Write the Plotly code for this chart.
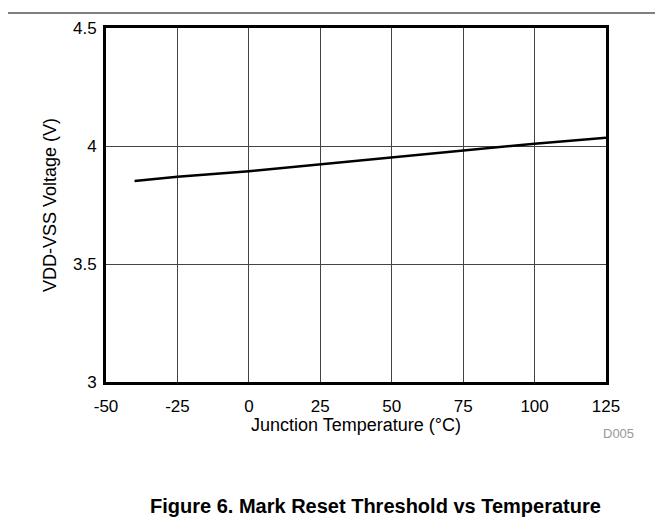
import plotly.graph_objects as go

temps = [-40, -25, 0, 25, 50, 75, 100, 125]
volts = [3.852, 3.870, 3.893, 3.922, 3.952, 3.982, 4.010, 4.035]

x_ticks = [-50, -25, 0, 25, 50, 75, 100, 125]
x_labels = ["-50", "-25", "0", "25", "50", "75", "100", "125"]
y_ticks = [3, 3.5, 4, 4.5]
y_labels = ["3", "3.5", "4", "4.5"]

FONT = "Liberation Sans, Arial, sans-serif"

fig = go.Figure()
fig.add_trace(go.Scatter(x=temps, y=volts, mode="lines",
                         line=dict(color="black", width=2.5), showlegend=False))

axis_style = dict(showline=True, mirror=True, linewidth=3, linecolor="black",
                  showgrid=True, gridcolor="#444444", gridwidth=1,
                  zeroline=False, ticks="outside", tickcolor="white",
                  tickfont=dict(family=FONT, size=17, color="black"))

fig.update_xaxes(range=[-50, 125], tickvals=x_ticks, ticktext=x_labels,
                 ticklen=7, **axis_style)
fig.update_yaxes(range=[3, 4.5], tickvals=y_ticks, ticktext=y_labels,
                 ticklen=3, **axis_style)

fig.update_layout(
    width=655, height=511,
    margin=dict(l=98, r=57, t=20, b=137),
    plot_bgcolor="white", paper_bgcolor="white",
    shapes=[dict(type="line", xref="paper", yref="paper",
                 x0=-106 / 500, x1=557 / 500, y0=369 / 354, y1=369 / 354,
                 line=dict(color="black", width=1))],
    annotations=[
        dict(text="Junction Temperature (°C)", xref="paper", yref="paper",
             x=0.5, y=-43 / 354, showarrow=False, xanchor="center", yanchor="middle",
             font=dict(family=FONT, size=18, color="black")),
        dict(text="VDD-VSS Voltage (V)", xref="paper", yref="paper",
             x=-56 / 500, y=0.5, textangle=-90, showarrow=False,
             xanchor="center", yanchor="middle",
             font=dict(family=FONT, size=18, color="black")),
        dict(text="D005", xref="paper", yref="paper", x=512 / 500, y=-51.5 / 354,
             showarrow=False, xanchor="center", yanchor="middle",
             font=dict(family=FONT, size=13, color="#999999")),
        dict(text="<b>Figure 6. Mark Reset Threshold vs Temperature</b>",
             xref="paper", yref="paper", x=269 / 500, y=-124 / 354,
             showarrow=False, xanchor="center", yanchor="middle",
             font=dict(family=FONT, size=20, color="black")),
    ],
)

fig.write_html("out.html")
